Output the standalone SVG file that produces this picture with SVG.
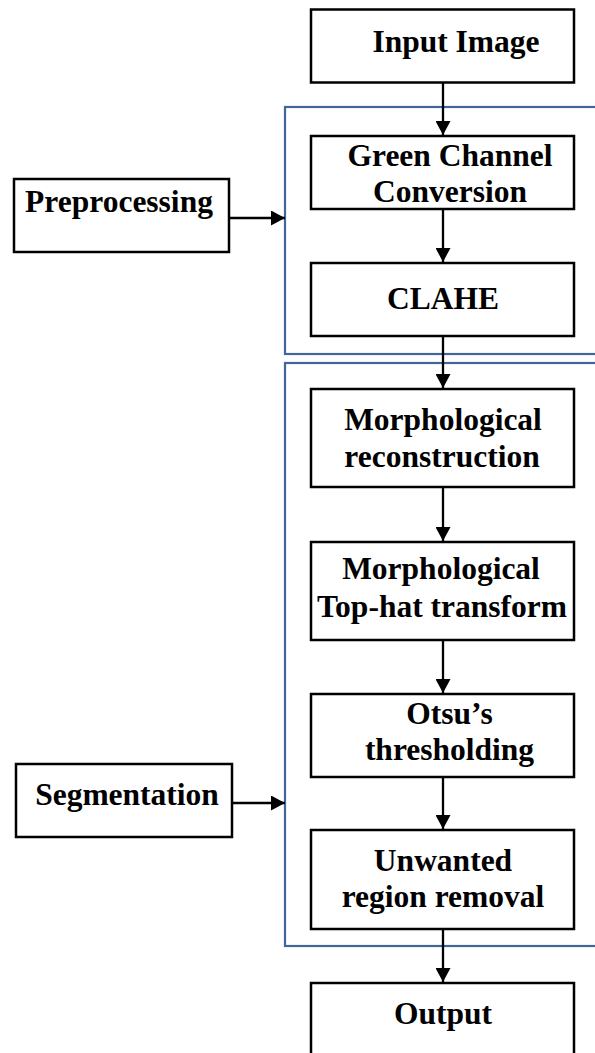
<svg xmlns="http://www.w3.org/2000/svg" width="595" height="1053" viewBox="0 0 595 1053">
<style>
.box{fill:#fff;stroke:#000;stroke-width:2.5}
.grp{fill:none;stroke:#41669A;stroke-width:2.2}
.lbl{font-family:"Liberation Serif","Times New Roman",serif;font-weight:bold;font-size:31.5px;fill:#000;text-anchor:middle}
.con{stroke:#000;stroke-width:2.3;fill:none;marker-end:url(#ah)}
</style>
<defs>
<marker id="ah" markerUnits="userSpaceOnUse" markerWidth="15" markerHeight="15" refX="14" refY="7.5" orient="auto">
<path d="M0,0 L14,7.5 L0,15 Z" fill="#000"/>
</marker>
</defs>
<rect width="595" height="1053" fill="#fff"/>
<g id="group-preprocessing"><rect class="grp" x="285" y="107" width="330" height="247"/></g>
<g id="group-segmentation"><rect class="grp" x="285" y="363" width="330" height="583"/></g>
<g id="input"><rect class="box" x="311" y="9.5" width="263" height="73"/><text class="lbl" x="456" y="52">Input Image</text></g>
<g id="green"><rect class="box" x="311" y="136" width="263" height="73"/><text class="lbl" x="450" y="166">Green Channel</text><text class="lbl" x="450" y="202">Conversion</text></g>
<g id="clahe"><rect class="box" x="311" y="263" width="263" height="73"/><text class="lbl" x="443" y="309">CLAHE</text></g>
<g id="recon"><rect class="box" x="311" y="389" width="263" height="98"/><text class="lbl" x="443" y="430">Morphological</text><text class="lbl" x="442" y="467">reconstruction</text></g>
<g id="tophat"><rect class="box" x="311" y="542" width="263" height="98"/><text class="lbl" x="441" y="579">Morphological</text><text class="lbl" x="442" y="617">Top-hat transform</text></g>
<g id="otsu"><rect class="box" x="311" y="694" width="263" height="83"/><text class="lbl" x="449.5" y="724">Otsu’s</text><text class="lbl" x="449.5" y="760">thresholding</text></g>
<g id="unwanted"><rect class="box" x="311" y="830" width="263" height="99"/><text class="lbl" x="443" y="871">Unwanted</text><text class="lbl" x="443" y="907">region removal</text></g>
<g id="output"><rect class="box" x="311" y="983" width="263" height="80"/><text class="lbl" x="443" y="1024">Output</text></g>
<g id="preprocessing"><rect class="box" x="14" y="179" width="215" height="73"/><text class="lbl" x="119" y="212">Preprocessing</text></g>
<g id="segmentation"><rect class="box" x="16" y="764" width="216" height="73"/><text class="lbl" x="127" y="805">Segmentation</text></g>
<g id="connectors">
<line class="con" x1="443" y1="83" x2="443" y2="135"/>
<line class="con" x1="443" y1="210" x2="443" y2="262"/>
<line class="con" x1="443" y1="337" x2="443" y2="388"/>
<line class="con" x1="443" y1="488" x2="443" y2="541"/>
<line class="con" x1="443" y1="641" x2="443" y2="693"/>
<line class="con" x1="443" y1="778" x2="443" y2="829"/>
<line class="con" x1="443" y1="930" x2="443" y2="982"/>
<line class="con" x1="230" y1="218" x2="285" y2="218"/>
<line class="con" x1="233" y1="803" x2="285" y2="803"/>
</g>
</svg>
